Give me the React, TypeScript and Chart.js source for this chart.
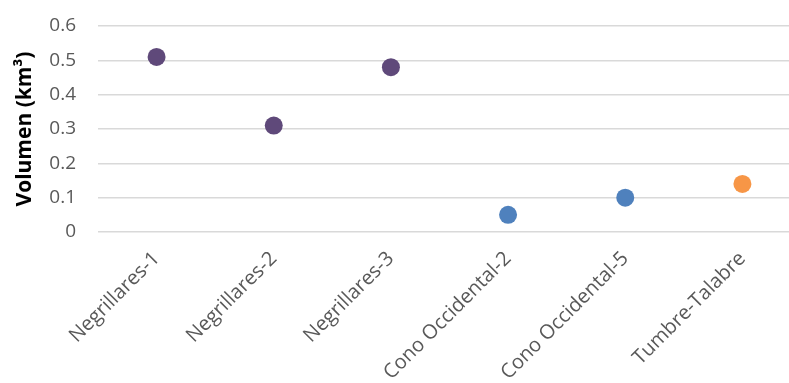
import React, { useEffect, useRef } from "react";
import { Chart, registerables } from "chart.js";

Chart.register(...registerables);

const categories = [
  "Negrillares-1",
  "Negrillares-2",
  "Negrillares-3",
  "Cono Occidental-2",
  "Cono Occidental-5",
  "Tumbre-Talabre",
];
const volumes = [0.51, 0.31, 0.48, 0.05, 0.1, 0.14];
const pointColors = ["#5f497a", "#5f497a", "#5f497a", "#4f81bd", "#4f81bd", "#f79646"];
const yTicks = [0, 0.1, 0.2, 0.3, 0.4, 0.5, 0.6];
const yTitle = "Volumen (km³)";

const FONT = "'Open Sans', Lato, sans-serif";

export default function App() {
  const ref = useRef<HTMLCanvasElement | null>(null);

  useEffect(() => {
    if (!ref.current) return;
    const chart = new Chart(ref.current, {
      type: "line",
      data: {
        labels: categories,
        datasets: [
          {
            data: volumes,
            showLine: false,
            pointRadius: 9,
            pointHoverRadius: 9,
            pointBorderWidth: 0,
            pointBackgroundColor: pointColors,
            pointBorderColor: pointColors,
          },
        ],
      },
      options: {
        animation: false,
        responsive: false,
        maintainAspectRatio: false,
        layout: { padding: { top: 26, left: 0, right: 0, bottom: 0 } },
        plugins: { legend: { display: false }, tooltip: { enabled: false } },
        scales: {
          x: {
            type: "category",
            offset: true,
            grid: { display: false, drawTicks: false },
            border: { display: false },
            ticks: {
              color: "#595959",
              font: { family: FONT, size: 20 },
              minRotation: 45,
              maxRotation: 45,
              autoSkip: false,
              padding: 15,
            },
            afterFit: (s: any) => {
              s.height = 151;
              s.paddingTop = 0;
              s.paddingBottom = 0;
            },
          },
          y: {
            min: 0,
            max: 0.6,
            afterBuildTicks: (s: any) => {
              s.ticks = yTicks.map((v) => ({ value: v }));
            },
            grid: { color: "#d9d9d9", lineWidth: 1.5, drawTicks: false },
            border: { display: false },
            ticks: {
              color: "#595959",
              font: { family: FONT, size: 19 },
              padding: 22,
              callback: (v: any) => String(Number(v)),
            },
            title: {
              display: true,
              text: yTitle,
              color: "#000000",
              font: { family: FONT, size: 21, weight: "bold" },
              padding: { top: 12, bottom: 0 },
            },
            afterFit: (s: any) => {
              s.width = 98;
              s.paddingTop = 0;
              s.paddingBottom = 0;
            },
          },
        },
      },
    });
    return () => chart.destroy();
  }, []);

  return (
    <div style={{ position: "fixed", left: 0, top: 0, width: 810, height: 383, background: "#fff" }}>
      <canvas ref={ref} width={810} height={383} style={{ display: "block" }} />
    </div>
  );
}
